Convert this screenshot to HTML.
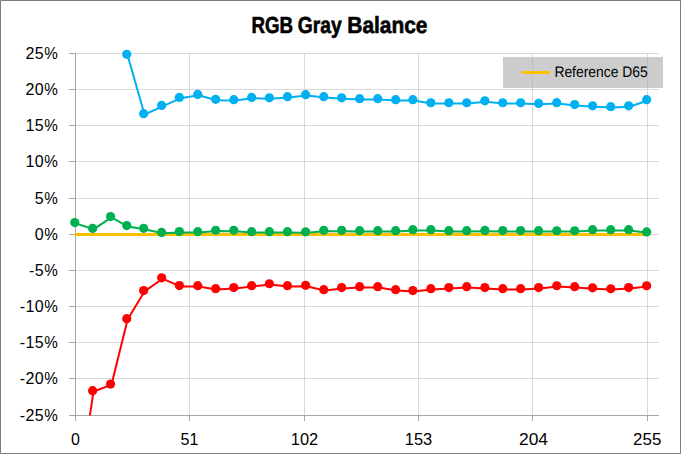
<!DOCTYPE html>
<html><head><meta charset="utf-8"><style>
html,body{margin:0;padding:0;background:#fff;}
body{width:681px;height:454px;overflow:hidden;}
svg{display:block;}
text{font-family:"Liberation Sans",sans-serif;}
</style></head><body>
<svg width="681" height="454" viewBox="0 0 681 454">
<rect x="0" y="0" width="681" height="454" fill="#fff"/>
<path d="M75 53.5H659 M75 89.5H659 M75 125.5H659 M75 161.5H659 M75 198.5H659 M75 234.5H659 M75 270.5H659 M75 306.5H659 M75 342.5H659 M75 378.5H659 M189.5 53V415 M304.5 53V415 M418.5 53V415 M532.5 53V415 M647.5 53V415" stroke="#d9d9d9" stroke-width="1" fill="none" shape-rendering="crispEdges"/>
<path d="M75.5 53V421 M69 415.5H659 M69 53.5H75 M69 89.5H75 M69 125.5H75 M69 161.5H75 M69 198.5H75 M69 234.5H75 M69 270.5H75 M69 306.5H75 M69 342.5H75 M69 378.5H75 M189.5 415V421 M304.5 415V421 M418.5 415V421 M532.5 415V421 M647.5 415V421" stroke="#a6a6a6" stroke-width="1" fill="none" shape-rendering="crispEdges"/>
<defs><clipPath id="pa"><rect x="60" y="40" width="610" height="375.5"/></clipPath></defs>
<g clip-path="url(#pa)">
<path d="M75 234.5H646.4" stroke="#ffc000" stroke-width="3" fill="none"/>
<path d="M75.60 223.40 L93.50 229.30 L111.40 217.40 L127.60 226.40 L144.50 229.20 L162.50 233.30 L180.20 232.40 L198.60 232.50 L216.50 231.10 L234.60 231.20 L252.50 232.50 L270.20 232.50 L288.30 232.50 L306.50 232.70 L324.60 231.20 L342.50 231.20 L360.50 231.50 L378.60 231.50 L396.50 231.50 L413.70 230.50 L431.70 230.50 L449.70 231.50 L467.60 231.50 L485.70 231.30 L503.60 231.40 L521.50 231.40 L539.50 231.50 L557.60 231.60 L575.50 231.60 L593.40 230.50 L611.60 230.50 L629.50 230.50 L647.50 232.80" stroke="#00b050" stroke-width="2" fill="none" stroke-linejoin="round"/><circle cx="74.75" cy="222.55" r="4.6" fill="#00b050"/><circle cx="92.65" cy="228.45" r="4.6" fill="#00b050"/><circle cx="110.55" cy="216.55" r="4.6" fill="#00b050"/><circle cx="126.75" cy="225.55" r="4.6" fill="#00b050"/><circle cx="143.65" cy="228.35" r="4.6" fill="#00b050"/><circle cx="161.65" cy="232.45" r="4.6" fill="#00b050"/><circle cx="179.35" cy="231.55" r="4.6" fill="#00b050"/><circle cx="197.75" cy="231.65" r="4.6" fill="#00b050"/><circle cx="215.65" cy="230.25" r="4.6" fill="#00b050"/><circle cx="233.75" cy="230.35" r="4.6" fill="#00b050"/><circle cx="251.65" cy="231.65" r="4.6" fill="#00b050"/><circle cx="269.35" cy="231.65" r="4.6" fill="#00b050"/><circle cx="287.45" cy="231.65" r="4.6" fill="#00b050"/><circle cx="305.65" cy="231.85" r="4.6" fill="#00b050"/><circle cx="323.75" cy="230.35" r="4.6" fill="#00b050"/><circle cx="341.65" cy="230.35" r="4.6" fill="#00b050"/><circle cx="359.65" cy="230.65" r="4.6" fill="#00b050"/><circle cx="377.75" cy="230.65" r="4.6" fill="#00b050"/><circle cx="395.65" cy="230.65" r="4.6" fill="#00b050"/><circle cx="412.85" cy="229.65" r="4.6" fill="#00b050"/><circle cx="430.85" cy="229.65" r="4.6" fill="#00b050"/><circle cx="448.85" cy="230.65" r="4.6" fill="#00b050"/><circle cx="466.75" cy="230.65" r="4.6" fill="#00b050"/><circle cx="484.85" cy="230.45" r="4.6" fill="#00b050"/><circle cx="502.75" cy="230.55" r="4.6" fill="#00b050"/><circle cx="520.65" cy="230.55" r="4.6" fill="#00b050"/><circle cx="538.65" cy="230.65" r="4.6" fill="#00b050"/><circle cx="556.75" cy="230.75" r="4.6" fill="#00b050"/><circle cx="574.65" cy="230.75" r="4.6" fill="#00b050"/><circle cx="592.55" cy="229.65" r="4.6" fill="#00b050"/><circle cx="610.75" cy="229.65" r="4.6" fill="#00b050"/><circle cx="628.65" cy="229.65" r="4.6" fill="#00b050"/><circle cx="646.65" cy="231.95" r="4.6" fill="#00b050"/>
<path d="M75.60 511.10 L93.50 391.50 L111.40 384.90 L127.60 319.50 L144.50 291.40 L162.50 278.70 L180.20 286.40 L198.60 286.50 L216.50 289.50 L234.60 288.40 L252.50 286.50 L270.20 284.60 L288.30 286.50 L306.50 286.20 L324.60 290.50 L342.50 288.40 L360.50 287.50 L378.60 287.50 L396.50 290.50 L413.70 291.40 L431.70 289.50 L449.70 288.40 L467.60 287.50 L485.70 288.40 L503.60 289.50 L521.50 289.50 L539.50 288.40 L557.60 286.60 L575.50 287.50 L593.40 288.70 L611.60 289.60 L629.50 288.40 L647.50 286.60" stroke="#ff0000" stroke-width="2" fill="none" stroke-linejoin="round"/><circle cx="74.75" cy="510.25" r="4.6" fill="#ff0000"/><circle cx="92.65" cy="390.65" r="4.6" fill="#ff0000"/><circle cx="110.55" cy="384.05" r="4.6" fill="#ff0000"/><circle cx="126.75" cy="318.65" r="4.6" fill="#ff0000"/><circle cx="143.65" cy="290.55" r="4.6" fill="#ff0000"/><circle cx="161.65" cy="277.85" r="4.6" fill="#ff0000"/><circle cx="179.35" cy="285.55" r="4.6" fill="#ff0000"/><circle cx="197.75" cy="285.65" r="4.6" fill="#ff0000"/><circle cx="215.65" cy="288.65" r="4.6" fill="#ff0000"/><circle cx="233.75" cy="287.55" r="4.6" fill="#ff0000"/><circle cx="251.65" cy="285.65" r="4.6" fill="#ff0000"/><circle cx="269.35" cy="283.75" r="4.6" fill="#ff0000"/><circle cx="287.45" cy="285.65" r="4.6" fill="#ff0000"/><circle cx="305.65" cy="285.35" r="4.6" fill="#ff0000"/><circle cx="323.75" cy="289.65" r="4.6" fill="#ff0000"/><circle cx="341.65" cy="287.55" r="4.6" fill="#ff0000"/><circle cx="359.65" cy="286.65" r="4.6" fill="#ff0000"/><circle cx="377.75" cy="286.65" r="4.6" fill="#ff0000"/><circle cx="395.65" cy="289.65" r="4.6" fill="#ff0000"/><circle cx="412.85" cy="290.55" r="4.6" fill="#ff0000"/><circle cx="430.85" cy="288.65" r="4.6" fill="#ff0000"/><circle cx="448.85" cy="287.55" r="4.6" fill="#ff0000"/><circle cx="466.75" cy="286.65" r="4.6" fill="#ff0000"/><circle cx="484.85" cy="287.55" r="4.6" fill="#ff0000"/><circle cx="502.75" cy="288.65" r="4.6" fill="#ff0000"/><circle cx="520.65" cy="288.65" r="4.6" fill="#ff0000"/><circle cx="538.65" cy="287.55" r="4.6" fill="#ff0000"/><circle cx="556.75" cy="285.75" r="4.6" fill="#ff0000"/><circle cx="574.65" cy="286.65" r="4.6" fill="#ff0000"/><circle cx="592.55" cy="287.85" r="4.6" fill="#ff0000"/><circle cx="610.75" cy="288.75" r="4.6" fill="#ff0000"/><circle cx="628.65" cy="287.55" r="4.6" fill="#ff0000"/><circle cx="646.65" cy="285.75" r="4.6" fill="#ff0000"/>
<path d="M127.60 55.20 L144.50 114.50 L162.50 106.30 L180.20 98.30 L198.60 95.30 L216.50 100.20 L234.60 100.50 L252.50 98.30 L270.20 98.70 L288.30 97.50 L306.50 95.50 L324.60 97.50 L342.50 98.70 L360.50 99.50 L378.60 99.50 L396.50 100.50 L413.70 100.50 L431.70 103.60 L449.70 103.60 L467.60 103.60 L485.70 101.70 L503.60 103.60 L521.50 103.60 L539.50 104.30 L557.60 103.50 L575.50 105.40 L593.40 106.70 L611.60 107.50 L629.50 106.70 L647.50 100.50" stroke="#00b0f0" stroke-width="2" fill="none" stroke-linejoin="round"/><circle cx="126.75" cy="54.35" r="4.6" fill="#00b0f0"/><circle cx="143.65" cy="113.65" r="4.6" fill="#00b0f0"/><circle cx="161.65" cy="105.45" r="4.6" fill="#00b0f0"/><circle cx="179.35" cy="97.45" r="4.6" fill="#00b0f0"/><circle cx="197.75" cy="94.45" r="4.6" fill="#00b0f0"/><circle cx="215.65" cy="99.35" r="4.6" fill="#00b0f0"/><circle cx="233.75" cy="99.65" r="4.6" fill="#00b0f0"/><circle cx="251.65" cy="97.45" r="4.6" fill="#00b0f0"/><circle cx="269.35" cy="97.85" r="4.6" fill="#00b0f0"/><circle cx="287.45" cy="96.65" r="4.6" fill="#00b0f0"/><circle cx="305.65" cy="94.65" r="4.6" fill="#00b0f0"/><circle cx="323.75" cy="96.65" r="4.6" fill="#00b0f0"/><circle cx="341.65" cy="97.85" r="4.6" fill="#00b0f0"/><circle cx="359.65" cy="98.65" r="4.6" fill="#00b0f0"/><circle cx="377.75" cy="98.65" r="4.6" fill="#00b0f0"/><circle cx="395.65" cy="99.65" r="4.6" fill="#00b0f0"/><circle cx="412.85" cy="99.65" r="4.6" fill="#00b0f0"/><circle cx="430.85" cy="102.75" r="4.6" fill="#00b0f0"/><circle cx="448.85" cy="102.75" r="4.6" fill="#00b0f0"/><circle cx="466.75" cy="102.75" r="4.6" fill="#00b0f0"/><circle cx="484.85" cy="100.85" r="4.6" fill="#00b0f0"/><circle cx="502.75" cy="102.75" r="4.6" fill="#00b0f0"/><circle cx="520.65" cy="102.75" r="4.6" fill="#00b0f0"/><circle cx="538.65" cy="103.45" r="4.6" fill="#00b0f0"/><circle cx="556.75" cy="102.65" r="4.6" fill="#00b0f0"/><circle cx="574.65" cy="104.55" r="4.6" fill="#00b0f0"/><circle cx="592.55" cy="105.85" r="4.6" fill="#00b0f0"/><circle cx="610.75" cy="106.65" r="4.6" fill="#00b0f0"/><circle cx="628.65" cy="105.85" r="4.6" fill="#00b0f0"/><circle cx="646.65" cy="99.65" r="4.6" fill="#00b0f0"/>
</g>
<text x="44.2" y="59.2" text-anchor="end" letter-spacing="0.45" font-family="Liberation Sans" font-size="16" fill="#000">25</text>
<text x="44.32" y="59.2" font-family="Liberation Sans" font-size="16" fill="#000" textLength="13.57" lengthAdjust="spacingAndGlyphs">%</text>
<text x="44.2" y="95.2" text-anchor="end" letter-spacing="0.45" font-family="Liberation Sans" font-size="16" fill="#000">20</text>
<text x="44.32" y="95.2" font-family="Liberation Sans" font-size="16" fill="#000" textLength="13.57" lengthAdjust="spacingAndGlyphs">%</text>
<text x="44.2" y="131.2" text-anchor="end" letter-spacing="0.45" font-family="Liberation Sans" font-size="16" fill="#000">15</text>
<text x="44.32" y="131.2" font-family="Liberation Sans" font-size="16" fill="#000" textLength="13.57" lengthAdjust="spacingAndGlyphs">%</text>
<text x="44.2" y="167.2" text-anchor="end" letter-spacing="0.45" font-family="Liberation Sans" font-size="16" fill="#000">10</text>
<text x="44.32" y="167.2" font-family="Liberation Sans" font-size="16" fill="#000" textLength="13.57" lengthAdjust="spacingAndGlyphs">%</text>
<text x="44.2" y="204.2" text-anchor="end" letter-spacing="0.45" font-family="Liberation Sans" font-size="16" fill="#000">5</text>
<text x="44.32" y="204.2" font-family="Liberation Sans" font-size="16" fill="#000" textLength="13.57" lengthAdjust="spacingAndGlyphs">%</text>
<text x="44.2" y="240.2" text-anchor="end" letter-spacing="0.45" font-family="Liberation Sans" font-size="16" fill="#000">0</text>
<text x="44.32" y="240.2" font-family="Liberation Sans" font-size="16" fill="#000" textLength="13.57" lengthAdjust="spacingAndGlyphs">%</text>
<text x="44.2" y="276.2" text-anchor="end" letter-spacing="0.45" font-family="Liberation Sans" font-size="16" fill="#000">-5</text>
<text x="44.32" y="276.2" font-family="Liberation Sans" font-size="16" fill="#000" textLength="13.57" lengthAdjust="spacingAndGlyphs">%</text>
<text x="44.2" y="312.2" text-anchor="end" letter-spacing="0.45" font-family="Liberation Sans" font-size="16" fill="#000">-10</text>
<text x="44.32" y="312.2" font-family="Liberation Sans" font-size="16" fill="#000" textLength="13.57" lengthAdjust="spacingAndGlyphs">%</text>
<text x="44.2" y="348.2" text-anchor="end" letter-spacing="0.45" font-family="Liberation Sans" font-size="16" fill="#000">-15</text>
<text x="44.32" y="348.2" font-family="Liberation Sans" font-size="16" fill="#000" textLength="13.57" lengthAdjust="spacingAndGlyphs">%</text>
<text x="44.2" y="384.2" text-anchor="end" letter-spacing="0.45" font-family="Liberation Sans" font-size="16" fill="#000">-20</text>
<text x="44.32" y="384.2" font-family="Liberation Sans" font-size="16" fill="#000" textLength="13.57" lengthAdjust="spacingAndGlyphs">%</text>
<text x="44.2" y="421.2" text-anchor="end" letter-spacing="0.45" font-family="Liberation Sans" font-size="16" fill="#000">-25</text>
<text x="44.32" y="421.2" font-family="Liberation Sans" font-size="16" fill="#000" textLength="13.57" lengthAdjust="spacingAndGlyphs">%</text>
<text x="75.5" y="444.6" text-anchor="middle" font-family="Liberation Sans" font-size="16" fill="#000">0</text>
<text x="189.5" y="444.6" text-anchor="middle" font-family="Liberation Sans" font-size="16" fill="#000">51</text>
<text x="290.8" y="444.6" font-family="Liberation Sans" font-size="16" fill="#000" textLength="27.4" lengthAdjust="spacingAndGlyphs">102</text>
<text x="404.8" y="444.6" font-family="Liberation Sans" font-size="16" fill="#000" textLength="27.4" lengthAdjust="spacingAndGlyphs">153</text>
<text x="519.0" y="444.6" font-family="Liberation Sans" font-size="16" fill="#000" textLength="29.0" lengthAdjust="spacingAndGlyphs">204</text>
<text x="633.1" y="444.6" font-family="Liberation Sans" font-size="16" fill="#000" textLength="28.2" lengthAdjust="spacingAndGlyphs">255</text>
<text x="251.4" y="33" font-family="Liberation Sans" font-weight="bold" font-size="23.3" text-rendering="geometricPrecision" fill="#000" stroke="#000" stroke-width="0.6" textLength="41.6" lengthAdjust="spacingAndGlyphs">RGB</text>
<text x="297.7" y="33" font-family="Liberation Sans" font-weight="bold" font-size="23.3" text-rendering="geometricPrecision" fill="#000" stroke="#000" stroke-width="0.6" textLength="44.0" lengthAdjust="spacingAndGlyphs">Gray</text>
<text x="347.3" y="33" font-family="Liberation Sans" font-weight="bold" font-size="23.3" text-rendering="geometricPrecision" fill="#000" stroke="#000" stroke-width="0.6" textLength="80.2" lengthAdjust="spacingAndGlyphs">Balance</text>
<rect x="503" y="57" width="160" height="31" fill="#acacac" fill-opacity="0.6"/>
<path d="M522.6 72.5H548.6" stroke="#ffc000" stroke-width="3.1" stroke-linecap="round"/>
<text x="554.4" y="76.8" font-family="Liberation Sans" font-size="15.3" text-rendering="geometricPrecision" fill="#000" textLength="93.3" lengthAdjust="spacingAndGlyphs">Reference D65</text>
<rect x="0.5" y="0.5" width="680" height="453" fill="none" stroke="#7d7d7d" stroke-width="1" shape-rendering="crispEdges"/>
<rect x="0" y="0" width="1" height="1" fill="#969696" shape-rendering="crispEdges"/>
<rect x="680" y="0" width="1" height="1" fill="#969696" shape-rendering="crispEdges"/>
<rect x="0" y="453" width="1" height="1" fill="#969696" shape-rendering="crispEdges"/>
<rect x="680" y="453" width="1" height="1" fill="#969696" shape-rendering="crispEdges"/>
</svg>
</body></html>
